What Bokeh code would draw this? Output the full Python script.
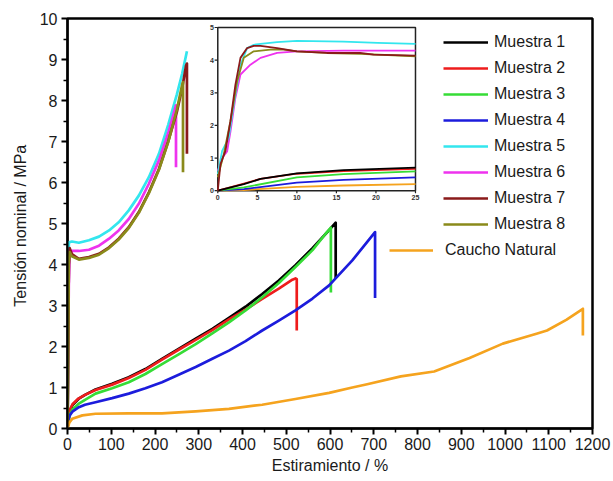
from bokeh.plotting import figure
from bokeh.models import Range1d, Legend, LegendItem, FixedTicker
from bokeh.embed import file_html
from bokeh.resources import INLINE
from bokeh.core.properties import value

# ---------------- data ----------------
names = ["Muestra 1", "Muestra 2", "Muestra 3", "Muestra 4",
         "Muestra 5", "Muestra 6", "Muestra 7", "Muestra 8"]
colors = ["#000000", "#ee1c1c", "#36dc36", "#1c1cdc",
          "#33e6ee", "#ee33ee", "#8a1a1a", "#8a8a1a"]
nr_name = "Caucho Natural"
nr_color = "#f5a31e"

m1_x = [0, 2, 6, 12, 25, 40, 64, 102, 140, 178, 216, 254, 293, 331, 369, 407, 445, 483, 521, 560, 598, 613, 613]
m1_y = [0, 0.25, 0.45, 0.58, 0.72, 0.82, 0.95, 1.09, 1.25, 1.45, 1.70, 1.94, 2.19, 2.43, 2.70, 2.97, 3.28, 3.61, 3.98, 4.40, 4.84, 5.02, 3.66]
m2_x = [0, 2, 6, 12, 25, 40, 64, 102, 140, 178, 216, 254, 293, 331, 369, 407, 445, 483, 514, 521, 524, 524]
m2_y = [0, 0.27, 0.47, 0.6, 0.73, 0.82, 0.94, 1.07, 1.23, 1.43, 1.68, 1.92, 2.16, 2.40, 2.66, 2.90, 3.16, 3.41, 3.63, 3.66, 3.64, 2.39]
m3_x = [0, 2, 6, 12, 25, 40, 64, 102, 140, 178, 216, 254, 293, 331, 369, 407, 445, 483, 521, 560, 590, 602, 602]
m3_y = [0, 0.2, 0.35, 0.47, 0.6, 0.7, 0.85, 0.98, 1.13, 1.33, 1.57, 1.81, 2.06, 2.32, 2.59, 2.88, 3.20, 3.55, 3.94, 4.35, 4.75, 4.9, 3.32]
m4_x = [0, 2, 5, 12, 26, 40, 64, 102, 140, 178, 216, 254, 293, 331, 369, 407, 445, 483, 521, 560, 598, 651, 703, 703]
m4_y = [0, 0.18, 0.32, 0.42, 0.52, 0.58, 0.64, 0.74, 0.85, 0.98, 1.13, 1.31, 1.50, 1.70, 1.90, 2.13, 2.39, 2.63, 2.88, 3.17, 3.49, 4.1, 4.79, 3.18]
m5_x = [0, 1, 3, 10, 26, 49, 72, 95, 117, 140, 163, 186, 209, 230, 250, 262, 273]
m5_y = [0, 1.4, 4.54, 4.56, 4.53, 4.59, 4.68, 4.83, 5.03, 5.32, 5.68, 6.13, 6.70, 7.40, 8.15, 8.65, 9.20]
m6_x = [0, 1, 3, 5, 10, 26, 49, 72, 95, 117, 140, 163, 186, 209, 230, 248, 248]
m6_y = [0, 1.2, 3.5, 4.2, 4.33, 4.33, 4.36, 4.46, 4.63, 4.83, 5.11, 5.48, 5.97, 6.54, 7.20, 7.88, 6.37]
m7_x = [0, 1, 3, 5, 10, 26, 49, 72, 95, 117, 140, 163, 186, 209, 230, 250, 262, 271, 273, 273]
m7_y = [0, 0.9, 4.0, 4.4, 4.25, 4.14, 4.18, 4.26, 4.42, 4.63, 4.91, 5.28, 5.76, 6.33, 7.00, 7.72, 8.30, 8.85, 8.90, 6.70]
m8_x = [0, 1, 3, 5, 10, 26, 49, 72, 95, 117, 140, 163, 186, 209, 230, 250, 262, 264, 264]
m8_y = [0, 1.1, 4.0, 4.3, 4.2, 4.12, 4.16, 4.24, 4.40, 4.61, 4.89, 5.26, 5.74, 6.31, 6.98, 7.78, 8.38, 8.45, 6.25]
nr_x = [0, 4, 11, 34, 64, 140, 216, 293, 369, 445, 521, 598, 651, 685, 762, 838, 919, 995, 1072, 1096, 1140, 1178, 1178]
nr_y = [0, 0.14, 0.24, 0.32, 0.36, 0.37, 0.37, 0.42, 0.48, 0.58, 0.72, 0.87, 1.0, 1.08, 1.27, 1.39, 1.72, 2.07, 2.31, 2.39, 2.65, 2.92, 2.27]

main_x = [m1_x, m2_x, m3_x, m4_x, m5_x, m6_x, m7_x, m8_x]
main_y = [m1_y, m2_y, m3_y, m4_y, m5_y, m6_y, m7_y, m8_y]

# inset (0-25 %)
i1_x = [0, 3.3, 5.4, 10, 15.9, 25]
i1_y = [0, 0.2, 0.36, 0.53, 0.63, 0.71]
i2_x = [0, 3.3, 5.4, 10, 15.9, 25]
i2_y = [0, 0.22, 0.36, 0.52, 0.6, 0.67]
i3_x = [0, 3.3, 10, 15.9, 25]
i3_y = [0, 0.1, 0.41, 0.51, 0.59]
i4_x = [0, 3.3, 10, 15.9, 25]
i4_y = [0, 0.05, 0.25, 0.33, 0.41]
i5_x = [0, 0.55, 0.97, 1.39, 2.02, 2.87, 3.71, 4.55, 5.4, 7.5, 10, 15.9, 20.2, 25]
i5_y = [0.51, 1.22, 1.42, 1.63, 2.64, 3.86, 4.37, 4.47, 4.5, 4.55, 4.59, 4.57, 4.53, 4.5]
i6_x = [0, 0.55, 1.18, 1.6, 2.23, 2.87, 4.13, 5.4, 7.5, 10, 15.9, 25]
i6_y = [0.61, 1.0, 1.2, 1.8, 2.85, 3.56, 3.86, 4.07, 4.22, 4.27, 4.29, 4.29]
i7_x = [0, 0.34, 0.97, 1.6, 2.23, 2.87, 3.71, 4.55, 5.4, 7.5, 10, 13.8, 18, 19.7, 25]
i7_y = [0, 0.81, 1.22, 2.13, 3.25, 4.07, 4.37, 4.44, 4.44, 4.37, 4.27, 4.22, 4.22, 4.17, 4.14]
i8_x = [0, 0.76, 1.6, 2.45, 3.29, 4.55, 6.66, 8.35, 10, 13.8, 18, 25]
i8_y = [0.41, 1.12, 2.13, 3.35, 4.07, 4.27, 4.32, 4.32, 4.27, 4.22, 4.19, 4.12]
inr_x = [0, 3.3, 10, 15.9, 25]
inr_y = [0, 0.02, 0.12, 0.16, 0.2]

inset_x = [i1_x, i2_x, i3_x, i4_x, i5_x, i6_x, i7_x, i8_x]
inset_y = [i1_y, i2_y, i3_y, i4_y, i5_y, i6_y, i7_y, i8_y]

x_ticks = [0, 100, 200, 300, 400, 500, 600, 700, 800, 900, 1000, 1100, 1200]
x_minor = [50, 150, 250, 350, 450, 550, 650, 750, 850, 950, 1050, 1150]
y_ticks = [0, 1, 2, 3, 4, 5, 6, 7, 8, 9, 10]
y_minor = [0.5, 1.5, 2.5, 3.5, 4.5, 5.5, 6.5, 7.5, 8.5, 9.5]
inset_xticks = [0, 5, 10, 15, 20, 25]
inset_yticks = [0, 1, 2, 3, 4, 5]
inset_xlim = [0, 25]
inset_ylim = [0, 5]

# ---------------- layout constants ----------------
XMAX, YMAX = 1200, 10
# inset box, expressed in the main axes' data units
box_x0, box_x1 = 343.5, 795.4
box_y0, box_y1 = 5.80, 9.78

FONT = "Liberation Sans"

p = figure(width=613, height=481, output_backend="svg", toolbar_location=None,
           x_range=Range1d(0, XMAX), y_range=Range1d(0, YMAX),
           min_border_left=67, min_border_right=21, min_border_top=18, min_border_bottom=53)
p.background_fill_color = "white"
p.border_fill_color = "white"
p.xgrid.visible = False
p.ygrid.visible = False
p.outline_line_color = "black"
p.outline_line_width = 2.5
p.outline_line_alpha = 1

p.xaxis.ticker = FixedTicker(ticks=x_ticks, minor_ticks=x_minor)
p.yaxis.ticker = FixedTicker(ticks=y_ticks, minor_ticks=y_minor)
for ax in (p.xaxis, p.yaxis):
    ax.axis_line_width = 2
    ax.major_tick_in = 0
    ax.major_tick_out = 6
    ax.minor_tick_in = 0
    ax.minor_tick_out = 4
    ax.major_tick_line_width = 2
    ax.minor_tick_line_width = 1.5
    ax.major_label_text_font = FONT
    ax.major_label_text_font_size = "16px"
    ax.major_label_text_color = "#1a1a1a"
    ax.axis_label_text_font = FONT
    ax.axis_label_text_font_size = "16px"
    ax.axis_label_text_font_style = "normal"
    ax.axis_label_text_color = "#1a1a1a"
p.xaxis.major_label_standoff = 3
p.xaxis.axis_label_standoff = 4
p.yaxis.major_label_standoff = 4
p.yaxis.axis_label_standoff = 8
p.xaxis.axis_label = "Estiramiento / %"
p.yaxis.axis_label = "Tensión nominal  / MPa"

# main curves
renderers = []
for xs, ys, c in zip(main_x, main_y, colors):
    renderers.append(p.line(xs, ys, line_color=c, line_width=2.7, line_join="round"))
r_nr = p.line(nr_x, nr_y, line_color=nr_color, line_width=2.7, line_join="round")

# inset via extra ranges mapped onto the inset box
ix_scale = (inset_xlim[1] - inset_xlim[0]) / (box_x1 - box_x0)
iy_scale = (inset_ylim[1] - inset_ylim[0]) / (box_y1 - box_y0)
ix_start = inset_xlim[0] - box_x0 * ix_scale
iy_start = inset_ylim[0] - box_y0 * iy_scale
p.extra_x_ranges = {"ix": Range1d(ix_start, ix_start + XMAX * ix_scale)}
p.extra_y_ranges = {"iy": Range1d(iy_start, iy_start + YMAX * iy_scale)}

p.quad(left=[inset_xlim[0]], right=[inset_xlim[1]], bottom=[inset_ylim[0]], top=[inset_ylim[1]],
       fill_color="white", line_color="#222222", line_width=1.5,
       x_range_name="ix", y_range_name="iy")
tick_len_x = 0.08
tick_len_y = 0.4
p.segment(x0=inset_xticks, y0=[inset_ylim[0]] * len(inset_xticks),
          x1=inset_xticks, y1=[inset_ylim[0] - tick_len_x] * len(inset_xticks),
          line_color="#222222", line_width=1.2, x_range_name="ix", y_range_name="iy")
p.segment(x0=[inset_xlim[0]] * len(inset_yticks), y0=inset_yticks,
          x1=[inset_xlim[0] - tick_len_y] * len(inset_yticks), y1=inset_yticks,
          line_color="#222222", line_width=1.2, x_range_name="ix", y_range_name="iy")
p.text(x=inset_xticks, y=[inset_ylim[0]] * len(inset_xticks), text=[str(t) for t in inset_xticks],
       text_align="center", text_baseline="top", y_offset=4,
       text_font=value(FONT), text_font_size="7px", text_font_style="bold", text_color="#333333",
       x_range_name="ix", y_range_name="iy")
p.text(x=[inset_xlim[0]] * len(inset_yticks), y=inset_yticks, text=[str(t) for t in inset_yticks],
       text_align="right", text_baseline="middle", x_offset=-4,
       text_font=value(FONT), text_font_size="7px", text_font_style="bold", text_color="#333333",
       x_range_name="ix", y_range_name="iy")

p.line(inr_x, inr_y, line_color=nr_color, line_width=1.8, x_range_name="ix", y_range_name="iy")
for k in [3, 2, 1, 0, 5, 4, 7, 6]:
    p.line(inset_x[k], inset_y[k], line_color=colors[k], line_width=1.8, line_join="round",
           x_range_name="ix", y_range_name="iy")

# legends
leg = Legend(items=[LegendItem(label=n, renderers=[r]) for n, r in zip(names, renderers)],
             location=(376, 194), orientation="vertical",
             border_line_color=None, background_fill_alpha=0,
             padding=0, margin=0, spacing=6,
             glyph_width=45, glyph_height=20, label_height=20, label_standoff=6,
             label_text_font=FONT, label_text_font_size="16px", label_text_color="#1a1a1a")
p.add_layout(leg)
leg2 = Legend(items=[LegendItem(label=nr_name, renderers=[r_nr])],
              location=(322, 168), orientation="vertical",
              border_line_color=None, background_fill_alpha=0,
              padding=0, margin=0, spacing=6,
              glyph_width=44, glyph_height=20, label_height=20, label_standoff=12,
              label_text_font=FONT, label_text_font_size="16px", label_text_color="#1a1a1a")
p.add_layout(leg2)

open("out.html", "w").write(file_html(p, INLINE))
